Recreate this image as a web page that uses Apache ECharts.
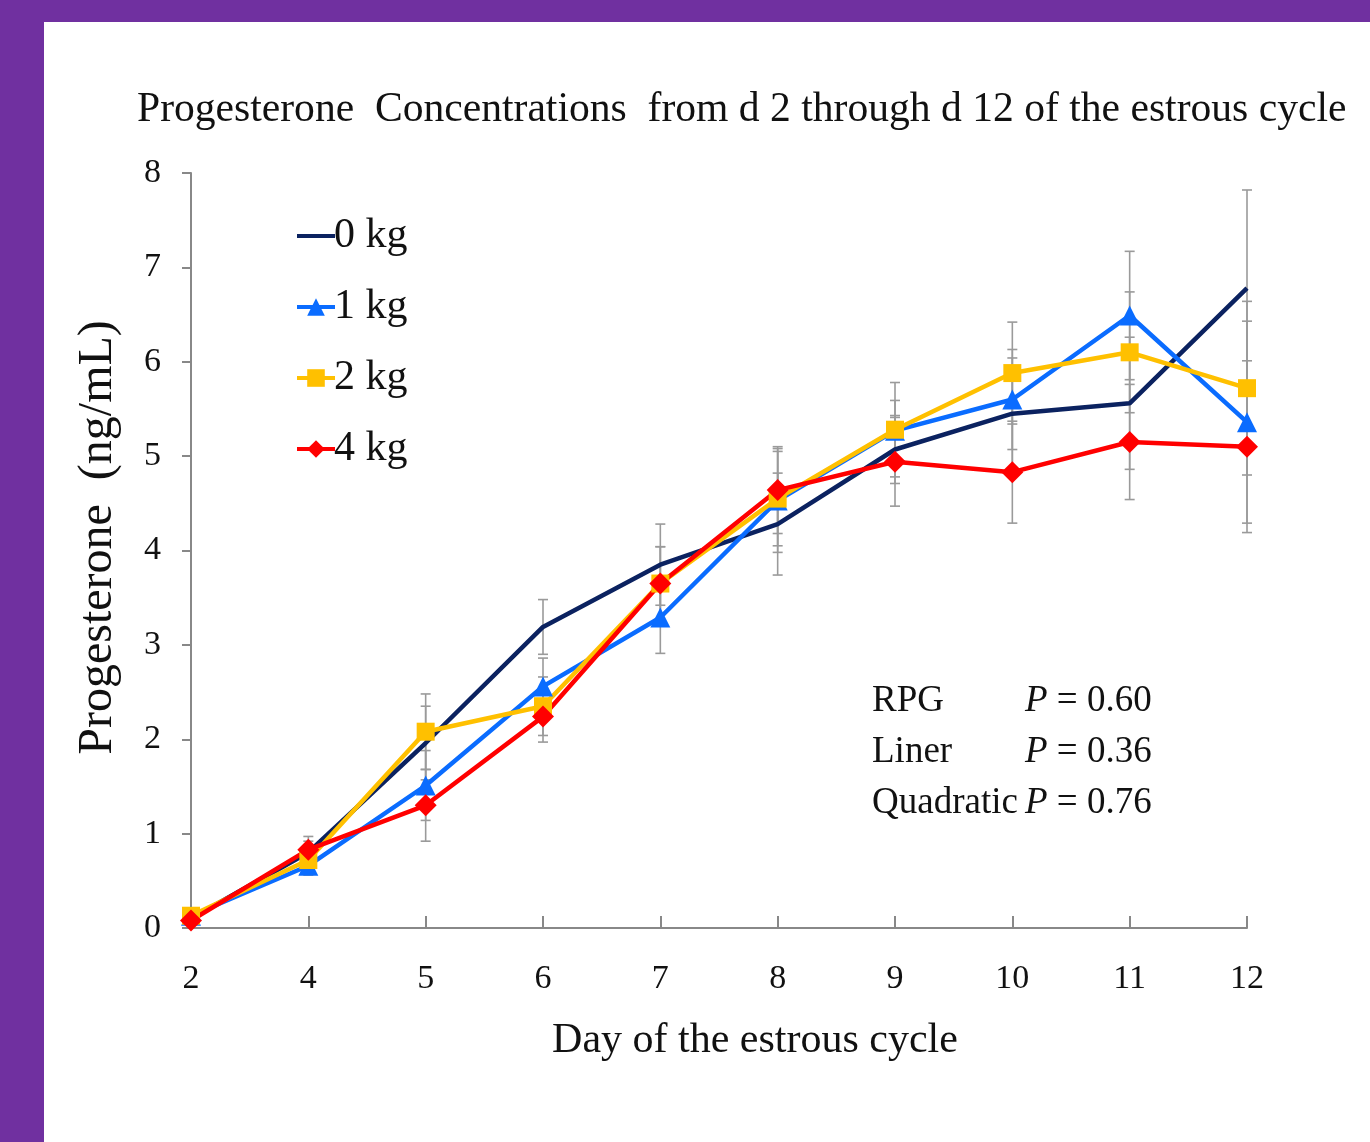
<!DOCTYPE html>
<html>
<head>
<meta charset="utf-8">
<script src="https://cdn.jsdelivr.net/npm/echarts@6/dist/echarts.min.js"></script>
<style>
html,body{margin:0;padding:0;background:#7030A0;width:1370px;height:1142px;overflow:hidden;}
#chart{position:absolute;left:44px;top:22px;width:1326px;height:1120px;background:#ffffff;}
</style>
</head>
<body>
<div id="chart"></div>
<script>
const days = ['2','4','5','6','7','8','9','10','11','12'];
const yTicks = [0,1,2,3,4,5,6,7,8];
const seriesNames = ['0 kg','1 kg','2 kg','4 kg'];
const kg0 = [0.10, 0.80, 1.96, 3.19, 3.85, 4.28, 5.07, 5.45, 5.56, 6.78];
const kg1 = [0.13, 0.66, 1.51, 2.56, 3.29, 4.53, 5.27, 5.60, 6.49, 5.36];
const kg2 = [0.13, 0.72, 2.08, 2.35, 3.65, 4.55, 5.28, 5.88, 6.10, 5.72];
const kg4 = [0.08, 0.83, 1.30, 2.24, 3.65, 4.64, 4.94, 4.83, 5.15, 5.10];
const err0 = [0.05, 0.12, 0.39, 0.29, 0.43, 0.54, 0.36, 0.59, 0.70, 1.04];
const err1 = [0.05, 0.10, 0.37, 0.30, 0.38, 0.55, 0.32, 0.53, 0.68, 1.07];
const err2 = [0.05, 0.12, 0.40, 0.31, 0.39, 0.50, 0.50, 0.54, 0.64, 0.92];
const err4 = [0.05, 0.14, 0.38, 0.27, 0.39, 0.46, 0.47, 0.54, 0.61, 0.91];
const statLabels = ['RPG','Liner','Quadratic'];
const statP = ['0.60','0.36','0.76'];

const colors = ['#0B2260','#0A6CFF','#FFC000','#FF0000'];
const symbols = ['none','triangle','rect','diamond'];
const symbolSizes = [0, 20, 18, 22];
const values = [kg0, kg1, kg2, kg4];
const errs = [err0, err1, err2, err4];
const FONT = '"Liberation Serif", "Times New Roman", serif';

function errData(v, e){ return v.map((y,i)=>[i, y - e[i], y + e[i]]); }

function renderErr(params, api){
  const x = api.value(0);
  const lo = api.coord([x, api.value(1)]);
  const hi = api.coord([x, api.value(2)]);
  const w = 5;
  const st = {stroke:'#9a9a9a', lineWidth:1.6, fill:null};
  return {type:'group', children:[
    {type:'line', shape:{x1:lo[0], y1:lo[1], x2:hi[0], y2:hi[1]}, style:st},
    {type:'line', shape:{x1:lo[0]-w, y1:lo[1], x2:lo[0]+w, y2:lo[1]}, style:st},
    {type:'line', shape:{x1:hi[0]-w, y1:hi[1], x2:hi[0]+w, y2:hi[1]}, style:st}
  ]};
}

const series = [];
values.forEach((v,k)=>{
  series.push({type:'custom', name:'err'+k, renderItem:renderErr, data:errData(v, errs[k]), z:1, silent:true, encode:{x:0, y:[1,2]}});
});
values.forEach((v,k)=>{
  series.push({
    type:'line', name:seriesNames[k], data:v, z:5,
    symbol:symbols[k], symbolSize:symbolSizes[k], showSymbol: k!==0,
    lineStyle:{color:colors[k], width:4.5},
    itemStyle:{color:colors[k]},
    emphasis:{disabled:true}
  });
});

const legendData = seriesNames.map((n,k)=> k===0
  ? {name:n, itemStyle:{color:'rgba(0,0,0,0)', borderWidth:0}, lineStyle:{width:4, color:colors[k]}}
  : {name:n, lineStyle:{width:4, color:colors[k]}});

const chart = echarts.init(document.getElementById('chart'), null, {renderer:'canvas'});
chart.setOption({
  animation:false,
  backgroundColor:'#ffffff',
  title:{
    text:'Progesterone  Concentrations  from d 2 through d 12 of the estrous cycle',
    left:93, top:67, padding:0,
    textStyle:{fontFamily:FONT, fontSize:41.6, fontWeight:'normal', color:'#111'}
  },
  legend:{
    data:legendData, orient:'vertical', left:246, top:188,
    itemWidth:38, itemHeight:22, itemGap:29,
    textStyle:{fontFamily:FONT, fontSize:42, color:'#111', padding:[0,0,0,-6]}
  },
  grid:{left:147, right:123, top:151, bottom:214},
  xAxis:{
    type:'category', data:days, boundaryGap:false,
    axisLine:{lineStyle:{color:'#888', width:2}},
    axisTick:{inside:true, length:12, lineStyle:{color:'#888', width:2}, alignWithLabel:true},
    axisLabel:{fontFamily:FONT, fontSize:34, color:'#111', margin:34},
    name:'Day of the estrous cycle', nameLocation:'middle', nameGap:92,
    nameTextStyle:{fontFamily:FONT, fontSize:42, color:'#111', padding:[0,0,0,72]}
  },
  yAxis:{
    type:'value', min:0, max:8, interval:1,
    splitLine:{show:false},
    axisLine:{show:true, lineStyle:{color:'#888', width:2}},
    axisTick:{show:true, length:9, lineStyle:{color:'#888', width:2}},
    axisLabel:{fontFamily:FONT, fontSize:34, color:'#111', margin:30, formatter:(v)=>yTicks.includes(v)?String(v):''},
    name:'Progesterone  (ng/mL)', nameLocation:'middle', nameGap:69,
    nameTextStyle:{fontFamily:FONT, fontSize:48, color:'#111', padding:[0,0,0,26]}
  },
  graphic: statLabels.map((s,i)=>({
    type:'text', left:828, top:661 + i*51,
    style:{
      text:'{a|'+s+'}{p|P}{b| = '+statP[i]+'}',
      rich:{
        a:{fontFamily:FONT, fontSize:37, fill:'#111', width:153},
        p:{fontFamily:FONT, fontSize:37, fill:'#111', fontStyle:'italic'},
        b:{fontFamily:FONT, fontSize:37, fill:'#111'}
      }
    }
  })),
  series: series
});
</script>
</body>
</html>
